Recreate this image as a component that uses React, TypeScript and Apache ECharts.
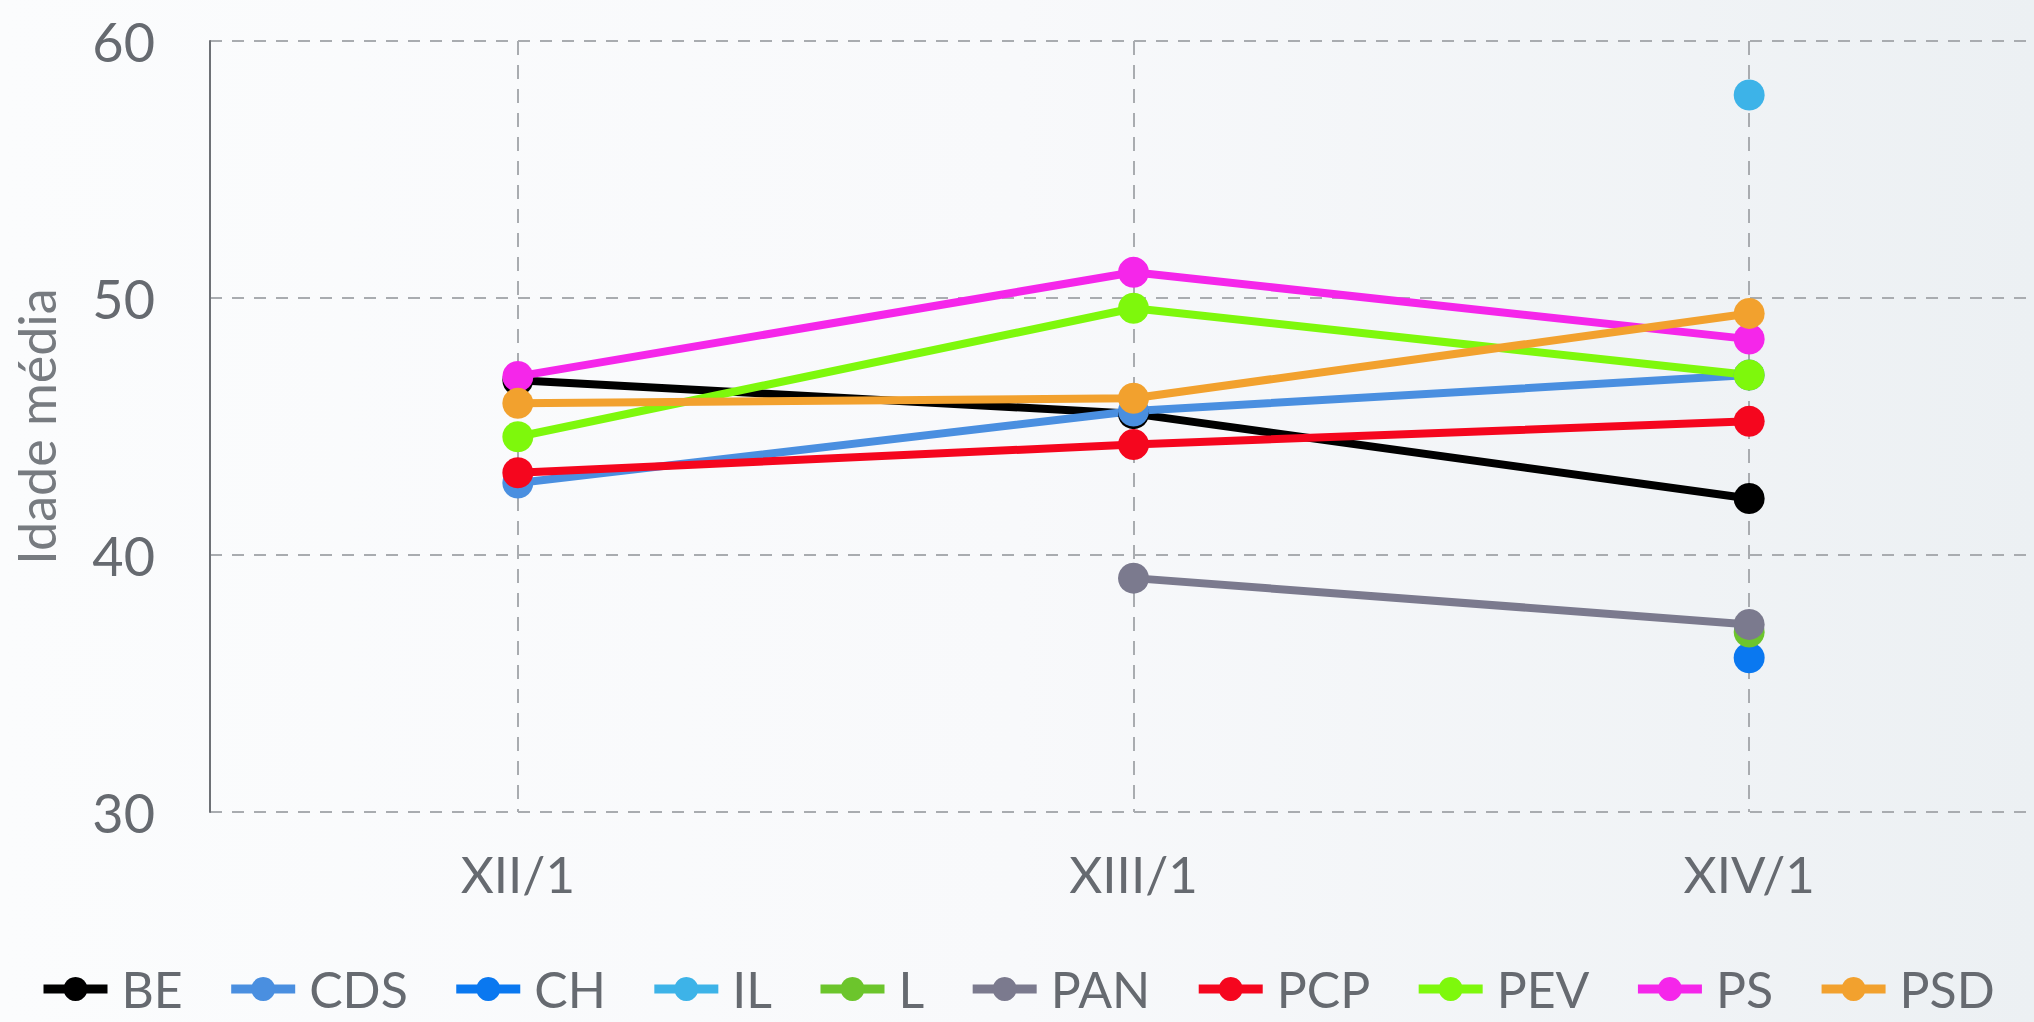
import React, { useEffect, useRef } from "react";
import * as echarts from "echarts";

const categories = ["XII/1", "XIII/1", "XIV/1"];
const seriesNames = ["BE", "CDS", "CH", "IL", "L", "PAN", "PCP", "PEV", "PS", "PSD"];
const seriesColors = ["#000000", "#4a8fe0", "#0a78f0", "#3db3e8", "#6cc52c", "#7b7a8e", "#f5061e", "#7ef80c", "#f526ea", "#f2a12e"];
const BE = [46.8, 45.5, 42.2];
const CDS = [42.8, 45.6, 47.0];
const CH = [null, null, 36.0];
const IL = [null, null, 57.9];
const L = [null, null, 37.0];
const PAN = [null, 39.1, 37.3];
const PCP = [43.2, 44.3, 45.2];
const PEV = [44.6, 49.6, 47.0];
const PS = [46.95, 51.0, 48.4];
const PSD = [45.9, 46.1, 49.4];
const seriesValues = [BE, CDS, CH, IL, L, PAN, PCP, PEV, PS, PSD];
const yTicks = { min: 30, max: 60, interval: 10 };

export default function App() {
  const ref = useRef<HTMLDivElement>(null);
  useEffect(() => {
    document.body.style.margin = "0";
    const chart = echarts.init(ref.current!, null, { renderer: "svg" });
    const font = "Lato";
    chart.setOption({
      animation: false,
      backgroundColor: {
        type: "linear", x: 0, y: 0, x2: 1, y2: 0,
        colorStops: [
          { offset: 0, color: "#fbfcfd" },
          { offset: 0.5, color: "#f8f9fb" },
          { offset: 1, color: "#ecf0f3" },
        ],
      },
      textStyle: { fontFamily: font },
      grid: { left: 210, top: 41, width: 1847, height: 771, outerBoundsMode: "none", containLabel: false },
      legend: {
        left: 39,
        top: 964,
        padding: 0,
        width: 2000,
        itemWidth: 64,
        itemHeight: 30,
        itemGap: 44,
        lineStyle: { width: 9 },
        textStyle: { fontFamily: font, fontSize: 50, lineHeight: 50, color: "#666a70", padding: [0, 0, 0, 9] },
        data: seriesNames,
      },
      xAxis: {
        type: "category",
        data: categories,
        boundaryGap: true,
        axisLine: { show: false },
        axisTick: { show: false },
        axisLabel: { fontFamily: font, fontSize: 51, color: "#666a70", margin: 36 },
        splitLine: {
          show: true,
          alignWithLabel: true,
          lineStyle: { color: "#a9acb0", width: 2, type: [14, 10] },
        },
      },
      yAxis: {
        type: "value",
        min: yTicks.min,
        max: yTicks.max,
        interval: yTicks.interval,
        name: "Idade média",
        nameLocation: "middle",
        nameGap: 148,
        nameTextStyle: { fontFamily: font, fontSize: 52, color: "#777b80" },
        axisLine: { show: true, lineStyle: { color: "#6e7176", width: 2 } },
        axisTick: { show: false },
        axisLabel: { fontFamily: font, fontSize: 54, color: "#666a70", margin: 55 },
        splitLine: { show: true, lineStyle: { color: "#a9acb0", width: 2, type: [12, 10] } },
      },
      series: seriesNames.map((name, i) => ({
        name,
        type: "line",
        data: seriesValues[i],
        color: seriesColors[i],
        symbol: "circle",
        symbolSize: 31,
        lineStyle: { width: 8 },
        connectNulls: false,
      })),
    });
    return () => chart.dispose();
  }, []);
  return <div ref={ref} style={{ width: 2034, height: 1022 }} />;
}
